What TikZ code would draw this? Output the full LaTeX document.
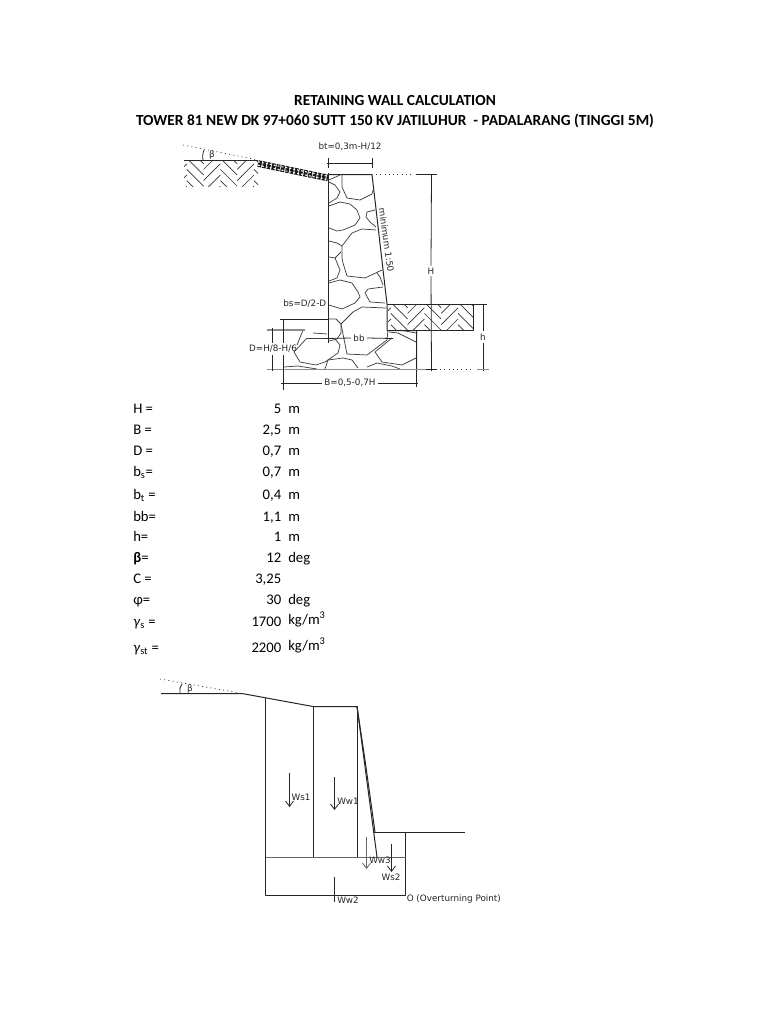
\documentclass[tikz,border=0pt]{standalone}
\usepackage{fontspec}
\setmainfont{Carlito}
\newfontfamily\cadfont{DejaVu Sans}
\usetikzlibrary{arrows.meta}
\tikzset{
 title/.style={font=\fontsize{11.55}{13}\selectfont\bfseries,anchor=center,inner sep=0pt},
 lbl/.style={font=\fontsize{11}{13}\selectfont,anchor=base west,inner sep=0pt},
 val/.style={font=\fontsize{11}{13}\selectfont,anchor=base east,inner sep=0pt},
 cad/.style={font=\cadfont\fontsize{6.6}{8}\selectfont,inner sep=1.5pt,text=black!85},
 wall/.style={line width=0.75pt,black!85,line join=round},
 rock/.style={line width=0.55pt,black!75,line join=round},
 dim/.style={line width=0.6pt,black!85},
 pale/.style={line width=0.9pt,black!45},
 dots/.style={line width=0.5pt,black!80,dash pattern=on 0.8pt off 2.4pt},
 hatchline/.style={line width=0.5pt,black!80},
 force/.style={line width=0.6pt,black!85,-{Straight Barb[length=4pt,width=6pt]}},
}
% herringbone: clip box x0,y0,x1,y1; cells on a 45-degree lattice
\newcommand{\herring}[4]{%
 \begin{scope}
 \clip (#1,#2) rectangle (#3,#4);
 \def\hs{5.6}
 \foreach \ci in {-1,0,...,13}{
  \foreach \cj in {-6,-5,...,11}{
   \pgfmathtruncatemacro{\md}{mod(\ci+\cj+60,6)}
   \ifnum\md<3
    \draw[hatchline] ({#1+(\ci+\cj+0.5)*\hs},{#2+(\ci-\cj-0.5)*\hs}) -- ++(\hs,\hs);
   \else
    \draw[hatchline] ({#1+(\ci+\cj+0.5)*\hs},{#2+(\ci-\cj+0.5)*\hs}) -- ++(\hs,-\hs);
   \fi
  }
 }
 \end{scope}
}
\begin{document}
\begin{tikzpicture}[x=0.75pt,y=-0.75pt]
\useasboundingbox (0,0) rectangle (768,1024);
\fill[white] (0,0) rectangle (768,1024);
% titles
\node[title] (t1) at (395,101) {RETAINING WALL CALCULATION};
\node[title] (t2) at (395,121) {TOWER 81 NEW DK 97+060 SUTT 150 KV JATILUHUR\ \ - PADALARANG (TINGGI 5M)};
% ---------- upper drawing
\herring{184}{161}{258}{186}
\draw[wall] (184,160.5) -- (258,160.5);
\draw[dots] (183,145) -- (258,160);
\draw[dim] (204,150) to[bend right=15] (203,160);
\node[cad] (beta1) at (212,155) {β};
% riprap
\draw[black!90,line width=5pt,dash pattern=on 2.8pt off 0.7pt] (258,163.5) -- (328,178);
\draw[white,line width=0.8pt,dash pattern=on 1.4pt off 1.6pt] (258,161.8) -- (328,176.3);
\draw[white,line width=0.8pt,dash pattern=on 1.4pt off 1.6pt] (258,165.2) -- (328,179.7);
% wall outline
\draw[wall,line width=0.9pt] (328.5,173) -- (328.5,343);
\draw[wall] (328,174.5) -- (372,174.5) -- (387,304) -- (387,330.5) -- (416.5,330.5) -- (416.5,371);
% rocks
\foreach \p in {
 {(329,180)--(340,175)},
 {(329,182)--(335,185)--(340,192)--(337,198)--(329,203)},
 {(342,175)--(342,187)--(347,198)--(360,200)--(372,194)--(373,190)},
 {(329,206)--(340,202)--(350,204)--(357,210)--(360,218)--(355,225)--(343,230)--(337,231)--(329,228)},
 {(375,210)--(367,212)--(366,217)--(370,222)--(376,227)},
 {(376,230)--(362,229)--(352,233)--(342,246)--(342,258)--(343,263)--(347,276)--(365,278)--(382,270)},
 {(329,241)--(337,243)--(342,246)},
 {(329,257)--(335,258)--(341,252)},
 {(335,258)--(340,270)--(337,278)--(329,281)},
 {(377,273)--(380,277)--(383,285)},
 {(329,283)--(340,280)--(352,283)--(358,292)--(360,297)--(355,303)--(342,309)--(329,305)},
 {(383,287)--(368,289)--(365,293)--(370,302)--(385,303)},
 {(386,308)--(362,307)--(353,312)--(341,324)},
 {(329,319)--(336,319)--(341,324)--(341,333)--(337,339)--(329,341)},
 {(341,324)--(347,354)--(367,355)--(387,340)--(388,330)},
 {(307,338)--(328,338)},
 {(307,338)--(294,352)--(300,362)--(316,365)--(325,362)--(338,353)--(340,345)--(335,339)--(328,338)},
 {(303,330)--(299,340)--(297,345)},
 {(313,333)--(327,334)},
 {(284,367)--(298,366)--(317,369)},
 {(325,369)--(328,360)--(343,358)--(352,360)--(358,368)},
 {(367,367)--(377,363)--(392,366)--(400,369)},
 {(392,338)--(375,352)--(382,362)--(402,365)--(416,358)},
 {(416,342)--(398,333)--(389,332)},
 {(400,330)--(416,333)}
}{\draw[rock] \p;}
% backfill at toe
\herring{388}{305}{473}{330}
\draw[wall] (387,304.5) -- (487,304.5);
\draw[wall] (387,330.5) -- (473.5,330.5) -- (473.5,304.5);
% ground and base lines
\draw[pale] (267,330) -- (305,330);
\draw[pale] (267,369.5) -- (416,369.5);
\draw[pale] (416,369.5) -- (426,369.5);
% dimensions
\node[cad] (bt) at (350,147) {bt=0,3m-H/12};
\draw[dim] (327,163.5) -- (373,163.5);
\draw[dim] (328.5,158) -- (328.5,168);
\draw[dim] (372.5,158) -- (372.5,168);
\draw[dots] (376,174.5) -- (412,174.5);
\draw[dim] (416,174.5) -- (437,174.5);
\node[cad] (Hl) at (431,271) {H};
\draw[dim] (431.5,174) -- (Hl.north);
\draw[dim] (Hl.south) -- (431.5,371);
\draw[dim] (426,369.5) -- (437,369.5);
\node[cad,rotate=-82] (minl) at (386.5,240) {minimum 1:50};
\node[cad,anchor=east] (bsl) at (328.5,304) {bs=D/2-D};
\draw[dim] (280,319.5) -- (329,319.5);
\node[cad] (Dl) at (273,349) {D=H/8-H/6};
\draw[dim] (272.5,328) -- (272.5,343);
\draw[dim] (272.5,355) -- (272.5,371);
\draw[dim] (283.5,319) -- (283.5,343);
\draw[dim] (283.5,355) -- (283.5,390);
\node[cad] (bbl) at (359,338) {bb};
\draw[dim] (325,338.5) -- (bbl.west);
\draw[dim] (bbl.east) -- (393,338.5);
\node[cad] (Bl) at (350,383) {B=0,5-0,7H};
\draw[dim,line width=0.7pt] (281,383) -- (Bl.west);
\draw[dim,line width=0.7pt] (Bl.east) -- (418,383);
\draw[dim] (416.5,370) -- (416.5,387);
\node[cad] (hl) at (483,337) {h};
\draw[dim] (483,304) -- (hl.north);
\draw[dim] (hl.south) -- (483,371);
\draw[dots] (440,369.5) -- (472,369.5);
\draw[pale] (477,369.5) -- (489,369.5);
% ---------- table
\foreach \name/\y/\lab/\v/\u in {
 a/413/{H =}/5/m,
 b/434/{B =}/{2,5}/m,
 c/455/{D =}/{0,7}/m,
 d/476/{b\textsubscript{s}=}/{0,7}/m,
 e/499/{b\textsubscript{t} =}/{0,4}/m,
 f/521/{bb=}/{1,1}/m,
 g/541/{h=}/1/m,
 h/562/{\textbf{β}=}/12/deg,
 i/583/{C =}/{3,25}/{},
 j/604/{φ=}/30/deg,
 k/626/{\textit{γ}\textsubscript{s} =}/1700/{\raisebox{1.5pt}{kg/m\textsuperscript{3}}},
 l/652/{\textit{γ}\textsubscript{st} =}/2200/{\raisebox{1.5pt}{kg/m\textsuperscript{3}}}}{
 \node[lbl] (L\name) at (133,\y) {\lab};
 \node[val] (V\name) at (281.5,\y) {\v};
 \node[lbl] (U\name) at (288,\y) {\u};
}
% ---------- lower drawing
\draw[dots] (160,679) -- (240,693);
\draw[wall] (161,693.5) -- (242,693.5) -- (313,706.5) -- (357,706.5) -- (377,857);
\draw[wall] (357,706.5) -- (365,760) -- (375,832);
\draw[dim] (182,684) to[bend right=25] (180,693);
\node[cad] (beta2) at (190,689) {β};
\draw[wall] (265.5,698) -- (265.5,895.5) -- (405.5,895.5) -- (405.5,832);
\draw[wall] (374,832.5) -- (465,832.5);
\draw[wall] (313.5,706) -- (313.5,857);
\draw[wall] (357.5,706) -- (357.5,857);
\draw[wall,black!60] (265.5,857.5) -- (405.5,857.5);
\coordinate (s1a) at (289.5,773); \coordinate (s1b) at (289.5,807);
\coordinate (w1a) at (334.5,777); \coordinate (w1b) at (334.5,810);
\coordinate (w3a) at (366.5,837); \coordinate (w3b) at (366.5,869);
\coordinate (s2a) at (391.5,844); \coordinate (s2b) at (391.5,872);
\coordinate (w2a) at (334.5,877); \coordinate (w2b) at (334.5,902);
\draw[force] (s1a) -- (s1b);
\draw[force] (w1a) -- (w1b);
\draw[force,black!60] (w3a) -- (w3b);
\draw[force] (s2a) -- (s2b);
\draw[dim] (w2a) -- (w2b);
\node[cad] (Ws1) at (301,797) {Ws1};
\node[cad] (Ww1) at (348,801) {Ww1};
\node[cad] (Ww3) at (380,860) {Ww3};
\node[cad] (Ws2) at (391,877) {Ws2};
\node[cad] (Ww2) at (348,900) {Ww2};
\node[cad,anchor=west] (op) at (404.5,899) {O (Overturning Point)};
\end{tikzpicture}
\end{document}
